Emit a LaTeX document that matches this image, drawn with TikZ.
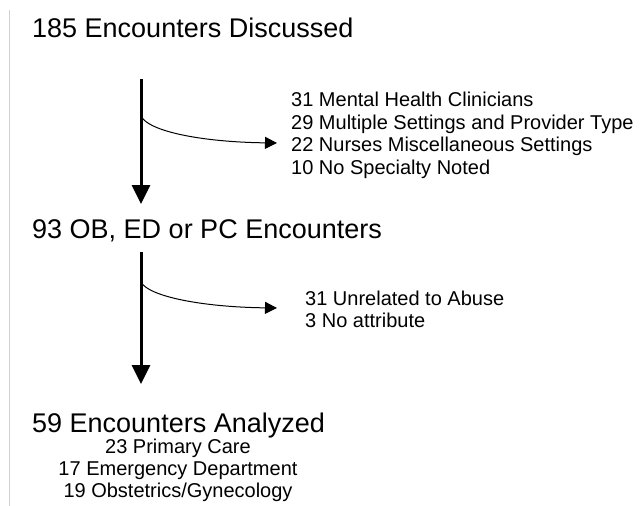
\documentclass[tikz,border=0pt]{standalone}
\usepackage{fontspec}
\setmainfont{Liberation Sans}
\usetikzlibrary{arrows.meta}
\begin{document}
\begin{tikzpicture}[x=1pt,y=-1pt,
  big/.style={inner sep=0pt,anchor=base west,font=\fontsize{27}{32}\selectfont},
  small/.style={inner sep=0pt,anchor=base west,font=\fontsize{20}{23}\selectfont},
  smallc/.style={inner sep=0pt,anchor=base,font=\fontsize{20}{23}\selectfont},
  mainarrow/.style={line width=3pt,-{Triangle[length=19pt,width=18pt]}},
  sidearrow/.style={line width=1pt,-{Triangle[length=12pt,width=12pt]}}]
\useasboundingbox (0,0) rectangle (643,506);
\coordinate (gtop) at (9,10);
\coordinate (gbot) at (9,506);
\draw[black!18,line width=1pt] (gtop) -- (gbot);

\node[big] (t1) at (32,37) {185 Encounters Discussed};
\node[big] (t2) at (32,238) {93 OB, ED or PC Encounters};
\node[big] (t3) at (32,432) {59 Encounters Analyzed};

\node[small] (m1) at (291,106) {31 Mental Health Clinicians};
\node[small] (m2) at (291,129) {29 Multiple Settings and Provider Type};
\node[small] (m3) at (291,151) {22 Nurses Miscellaneous Settings};
\node[small] (m4) at (291,174) {10 No Specialty Noted};

\node[small] (u1) at (305,305) {31 Unrelated to Abuse};
\node[small] (u2) at (305,327) {3 No attribute};

\node[smallc] (a1) at (178,453) {23 Primary Care};
\node[smallc] (a2) at (178,475) {17 Emergency Department};
\node[smallc] (a3) at (178,497) {19 Obstetrics/Gynecology};

\coordinate (s1) at (141,79);
\coordinate (e1) at (141,204);
\coordinate (s2) at (141,252);
\coordinate (e2) at (141,384);
\draw[mainarrow] (s1) -- (e1);
\draw[mainarrow] (s2) -- (e2);

\coordinate (b1s) at (141,116);
\coordinate (b1e) at (277,143);
\coordinate (b2s) at (141,282);
\coordinate (b2e) at (277,308);
\draw[sidearrow] (b1s) .. controls (148,131) and (200,142) .. (b1e);
\draw[sidearrow] (b2s) .. controls (148,296) and (200,307) .. (b2e);
\end{tikzpicture}
\end{document}
